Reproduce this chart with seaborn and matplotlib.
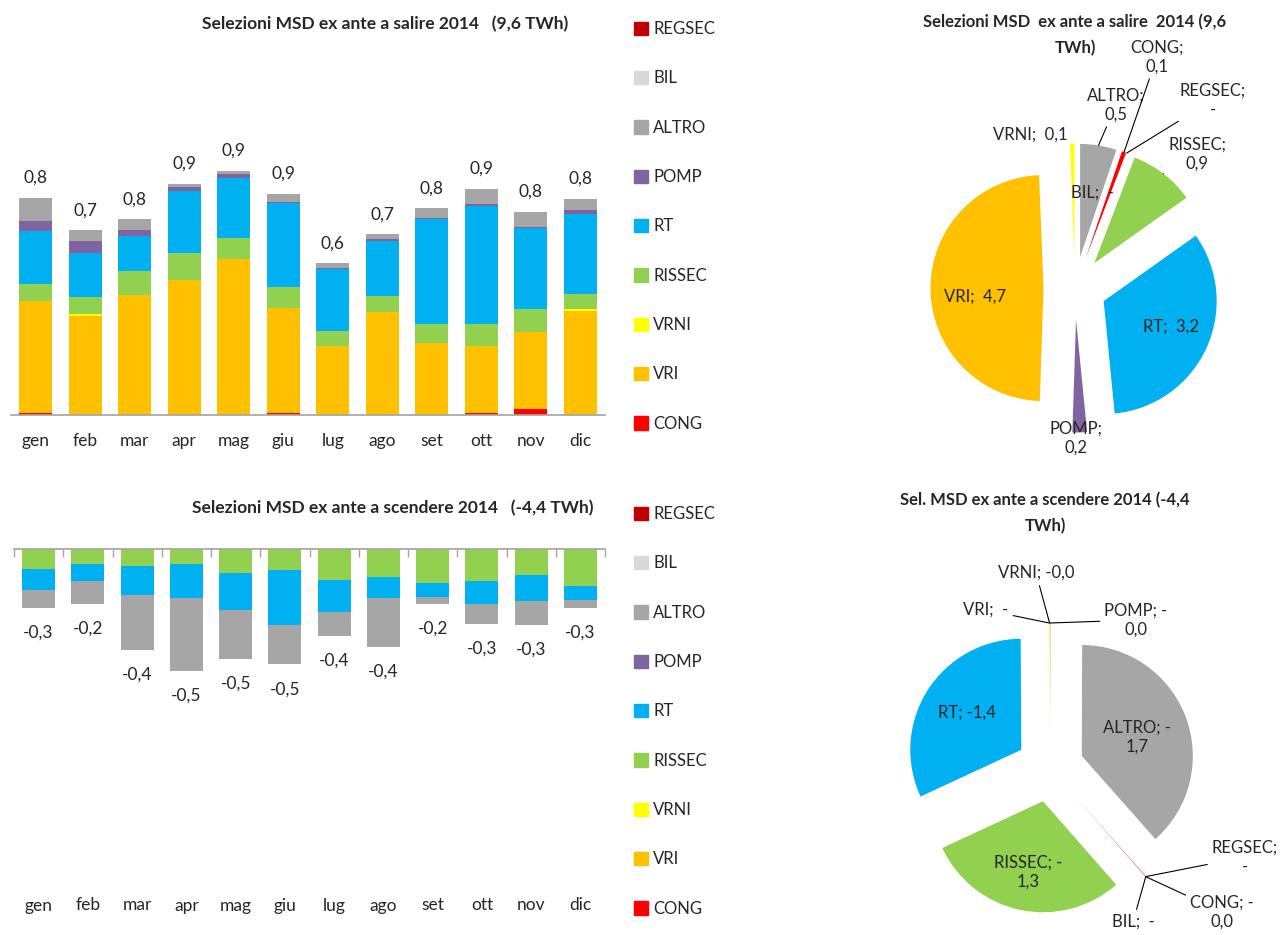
import numpy as np
import seaborn as sns
import matplotlib.pyplot as plt
from matplotlib.patches import Patch

# mesi e serie (ordine di impilamento dall'asse verso l'esterno)
mesi = ['gen', 'feb', 'mar', 'apr', 'mag', 'giu', 'lug', 'ago', 'set', 'ott', 'nov', 'dic']
serie = ['CONG', 'VRI', 'VRNI', 'RISSEC', 'RT', 'POMP', 'ALTRO', 'BIL', 'REGSEC']
colori = {'REGSEC': '#C00000', 'BIL': '#D9D9D9', 'ALTRO': '#A6A6A6', 'POMP': '#8064A2',
          'RT': '#00B0F0', 'RISSEC': '#92D050', 'VRNI': '#FFFF00', 'VRI': '#FFC000',
          'CONG': '#FF0000'}

# selezioni a salire 2014 (TWh)
su_cong = [0.008, 0, 0, 0, 0, 0.008, 0, 0, 0, 0.009, 0.022, 0]
su_vri = [0.43, 0.38, 0.46, 0.518, 0.60, 0.403, 0.267, 0.395, 0.278, 0.258, 0.297, 0.401]
su_vrni = [0, 0.008, 0, 0, 0, 0, 0, 0, 0, 0, 0, 0.005]
su_rissec = [0.064, 0.064, 0.092, 0.105, 0.081, 0.081, 0.058, 0.064, 0.071, 0.082, 0.087, 0.059]
su_rt = [0.205, 0.17, 0.136, 0.24, 0.229, 0.323, 0.236, 0.212, 0.404, 0.456, 0.312, 0.31]
su_pomp = [0.041, 0.047, 0.023, 0.013, 0.017, 0.006, 0.006, 0.006, 0.006, 0.006, 0.006, 0.012]
su_altro = [0.087, 0.041, 0.041, 0.012, 0.012, 0.03, 0.017, 0.018, 0.036, 0.058, 0.058, 0.044]
su_bil = [0] * 12
su_regsec = [0] * 12

# selezioni a scendere 2014 (TWh)
giu_cong = [0] * 12
giu_vri = [0] * 12
giu_vrni = [0] * 12
giu_rissec = [-0.087, -0.065, -0.074, -0.065, -0.104, -0.091, -0.135, -0.122, -0.148, -0.139, -0.113, -0.161]
giu_rt = [-0.091, -0.074, -0.126, -0.148, -0.161, -0.239, -0.139, -0.091, -0.061, -0.10, -0.113, -0.061]
giu_pomp = [0] * 12
giu_altro = [-0.078, -0.10, -0.239, -0.317, -0.213, -0.172, -0.104, -0.213, -0.03, -0.087, -0.104, -0.035]
giu_bil = [0] * 12
giu_regsec = [0] * 12

# torte (ordine delle fette in senso orario dalle ore 12)
torta_su_nomi = ['ALTRO', 'BIL', 'CONG', 'REGSEC', 'RISSEC', 'RT', 'POMP', 'VRI', 'VRNI']
torta_su_val = [0.5, 0, 0.06, 0, 0.9, 3.2, 0.2, 4.7, 0.06]
torta_giu_nomi = ['POMP', 'ALTRO', 'REGSEC', 'CONG', 'BIL', 'RISSEC', 'RT', 'VRI', 'VRNI']
torta_giu_val = [-0.002, -1.69, 0, -0.003, 0, -1.30, -1.40, 0, -0.004]

W, H = 1281, 935


def rett(l, t, r, b):
    return [l / W, 1 - b / H, (r - l) / W, (b - t) / H]


def fmt(v):
    return f"{v:.1f}".replace('.', ',')


sns.set_theme(style='white')
plt.rcParams['font.family'] = ['Lato', 'DejaVu Sans']
plt.rcParams['text.color'] = '#262626'

fig = plt.figure(figsize=(W / 100, H / 100), dpi=100)


def barre(ax, valori, dy):
    valori = np.array(valori, dtype=float)
    cum = np.cumsum(valori, axis=0)
    for i in range(len(serie) - 1, -1, -1):
        if not np.any(valori[i]):
            continue
        sns.barplot(x=mesi, y=cum[i], color=colori[serie[i]], saturation=1, width=0.67,
                    linewidth=0, errorbar=None, ax=ax)
    for i, t in enumerate(cum[-1]):
        ax.annotate(fmt(t), (i, t), xytext=(0, dy), textcoords='offset pixels',
                    ha='center', va='center', fontsize=12.5)
    ax.set_xlim(-0.5, 11.5)
    ax.set_yticks([])
    ax.set_xlabel('')
    ax.set_ylabel('')
    ax.set_xticks(np.arange(-0.5, 12, 1), minor=True)


# barre a salire
ax1 = fig.add_axes(rett(11, 142, 605, 415))
barre(ax1, [su_cong, su_vri, su_vrni, su_rissec, su_rt, su_pomp, su_altro, su_bil, su_regsec], 20)
ax1.set_ylim(0, 1.05)
for s in ['top', 'left', 'right']:
    ax1.spines[s].set_visible(False)
ax1.spines['bottom'].set_color('#a6a6a6')
ax1.tick_params(axis='x', which='major', length=0, pad=13, labelsize=12.5)
ax1.tick_params(axis='x', which='minor', length=6, color='#a6a6a6', width=1, direction='out')

# barre a scendere
ax2 = fig.add_axes(rett(14, 549, 605, 885))
barre(ax2, [giu_cong, giu_vri, giu_vrni, giu_rissec, giu_rt, giu_pomp, giu_altro, giu_bil, giu_regsec], -25)
ax2.set_ylim(-(885 - 549) / 230, 0)
for s in ['bottom', 'left', 'right']:
    ax2.spines[s].set_visible(False)
ax2.spines['top'].set_color('#a6a6a6')
ax2.tick_params(axis='x', which='major', length=0, pad=9, labelsize=12.5)
ax2.tick_params(axis='x', which='minor', top=True, bottom=False, length=6, color='#a6a6a6',
                width=1, direction='in')

fig.text(385 / W, 1 - 24 / H, 'Selezioni MSD ex ante a salire 2014   (9,6 TWh)',
         ha='center', va='center', fontsize=12.5, fontweight='bold')
fig.text(393 / W, 1 - 508 / H, 'Selezioni MSD ex ante a scendere 2014   (-4,4 TWh)',
         ha='center', va='center', fontsize=12.5, fontweight='bold')

# legende
for top in [21, 506]:
    fig.legend(handles=[Patch(color=colori[s], label=s) for s in reversed(serie)],
               loc='upper left', bbox_to_anchor=(634 / W, 1 - top / H), frameon=False,
               fontsize=12, handlelength=0.85, handleheight=0.85, handletextpad=0.3,
               labelspacing=2.0, borderpad=0, borderaxespad=0)


def torta(ax, nomi, valori, explode, raggio, pos, a_capo, guida):
    wedges, _ = ax.pie(np.abs(valori), colors=[colori[n] for n in nomi],
                       explode=[explode] * len(nomi), startangle=90, counterclock=False,
                       radius=raggio, wedgeprops=dict(linewidth=0))
    ax.set_xlim(-1.5, 1.5)
    ax.set_ylim(-1.5, 1.5)
    ax.set_aspect('equal')
    ax.axis('off')
    for w, n, v in zip(wedges, nomi, valori):
        if v > 0:
            s = ' ' + fmt(v)
        elif v == 0:
            s = ' -'
        else:
            s = fmt(v)
        if n in a_capo:
            testo = f"{n}; -\n{s[1:]}" if v < 0 else f"{n};\n{s.strip()}"
        else:
            testo = f"{n}; {s}"
        tm = np.deg2rad((w.theta1 + w.theta2) / 2)
        punto = (w.center[0] + w.r * np.cos(tm), w.center[1] + w.r * np.sin(tm))
        if n in guida:
            ax.annotate(testo, punto, xytext=pos[n], ha='center', va='center', fontsize=12,
                        annotation_clip=False,
                        arrowprops=dict(arrowstyle='-', color='black', lw=0.8,
                                        shrinkA=1, shrinkB=0))
        else:
            ax.text(pos[n][0], pos[n][1], testo, ha='center', va='center', fontsize=12)


pos_su = {'VRI': (-1.00, -0.09), 'RT': (0.96, -0.39), 'POMP': (0.01, -1.50),
          'VRNI': (-0.45, 1.53), 'ALTRO': (0.41, 1.83), 'CONG': (0.82, 2.31),
          'REGSEC': (1.38, 1.88), 'RISSEC': (1.22, 1.34), 'BIL': (0.17, 0.95)}
ax3 = fig.add_axes(rett(925, 138, 1225, 438))
torta(ax3, torta_su_nomi, torta_su_val, 0.315, 1.13, pos_su,
      ['POMP', 'ALTRO', 'CONG', 'REGSEC', 'RISSEC'], ['ALTRO', 'CONG', 'REGSEC', 'RISSEC'])

pos_giu = {'VRNI': (-0.14, 1.95), 'VRI': (-0.64, 1.58), 'POMP': (0.86, 1.48),
           'RT': (-0.83, 0.55), 'ALTRO': (0.87, 0.31), 'RISSEC': (-0.22, -1.04),
           'REGSEC': (1.95, -0.89), 'CONG': (1.72, -1.44), 'BIL': (0.83, -1.54)}
ax4 = fig.add_axes(rett(900, 618, 1200, 918))
torta(ax4, torta_giu_nomi, torta_giu_val, 0.34, 1.11, pos_giu,
      ['POMP', 'ALTRO', 'RISSEC', 'REGSEC', 'CONG'],
      ['VRNI', 'VRI', 'POMP', 'REGSEC', 'CONG', 'BIL'])

# titoli delle torte, una riga per testo
for x, y, riga in [(1075, 22, 'Selezioni MSD  ex ante a salire  2014 (9,6'), (1075, 48, 'TWh)'),
                   (1045, 500, 'Sel. MSD ex ante a scendere 2014 (-4,4'), (1045, 526, 'TWh)')]:
    fig.text(x / W, 1 - y / H, riga, ha='center', va='center', fontsize=12, fontweight='bold')

fig.savefig('out.png', dpi=100)
